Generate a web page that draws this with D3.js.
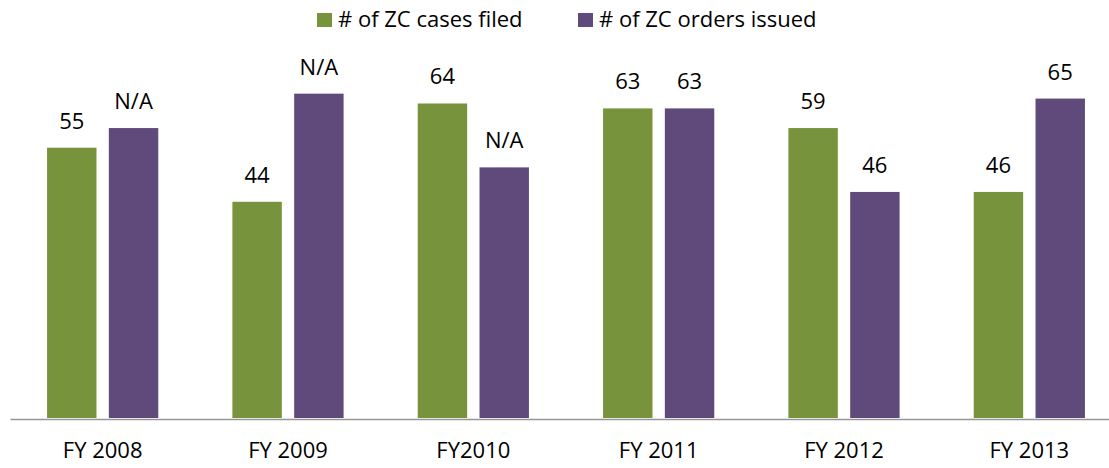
<!DOCTYPE html>
<html>
<head>
<meta charset="utf-8">
<script src="https://cdn.jsdelivr.net/npm/d3@7"></script>
<style>
  body { margin: 0; background: #fff; }
  text { font-family: "Open Sans", "Liberation Sans", sans-serif; fill: #000; }
</style>
</head>
<body>
<div id="chart"></div>
<script>
// data
var categories = ['FY 2008', 'FY 2009', 'FY2010', 'FY 2011', 'FY 2012', 'FY 2013'];
var seriesNames = ['# of ZC cases filed', '# of ZC orders issued'];
var casesFiled = [55, 44, 64, 63, 59, 46];
var ordersIssued = [59, 66, 51, 63, 46, 65];
var ordersLabels = ['N/A', 'N/A', 'N/A', '63', '46', '65'];
var colors = ['#77933C', '#604A7B'];

var width = 1109, height = 468;
var margin = { top: 74, bottom: 50, left: 10, right: -13 };

var svg = d3.select('#chart')
    .append('svg')
    .attr('width', width)
    .attr('height', height);

var x0 = d3.scaleBand()
    .domain(categories)
    .range([margin.left, width - margin.right])
    .paddingInner(0.4)
    .paddingOuter(0.2);

var x1 = d3.scaleBand()
    .domain(seriesNames)
    .range([0, x0.bandwidth()])
    .paddingInner(0.2);

var y = d3.scaleLinear()
    .domain([0, 70])
    .range([height - margin.bottom, margin.top]);

var rows = categories.map(function (c, i) {
    return [
        { cat: c, series: seriesNames[0], value: casesFiled[i], label: String(casesFiled[i]), color: colors[0] },
        { cat: c, series: seriesNames[1], value: ordersIssued[i], label: ordersLabels[i], color: colors[1] }
    ];
});

var groups = svg.selectAll('g.cat')
    .data(rows)
    .enter()
    .append('g')
    .attr('class', 'cat')
    .attr('transform', function (d) { return 'translate(' + x0(d[0].cat) + ',0)'; });

groups.selectAll('rect')
    .data(function (d) { return d; })
    .enter()
    .append('rect')
    .attr('x', function (d) { return x1(d.series); })
    .attr('y', function (d) { return y(d.value); })
    .attr('width', x1.bandwidth())
    .attr('height', function (d) { return y(0) - y(d.value); })
    .attr('fill', function (d) { return d.color; });

groups.selectAll('text.val')
    .data(function (d) { return d; })
    .enter()
    .append('text')
    .attr('class', 'val')
    .attr('x', function (d) { return x1(d.series) + x1.bandwidth() / 2; })
    .attr('y', function (d) { return y(d.value) - 19; })
    .attr('text-anchor', 'middle')
    .style('font-size', '22px')
    .text(function (d) { return d.label; });

// x axis
var xAxis = svg.append('g')
    .attr('transform', 'translate(0,' + (y(0) + 1) + ')')
    .call(d3.axisBottom(x0).tickSize(0).tickPadding(23));

xAxis.select('.domain')
    .attr('stroke', '#969696')
    .attr('stroke-width', 1.5);

xAxis.selectAll('text')
    .style('font-size', '22px')
    .style('font-family', '"Open Sans", "Liberation Sans", sans-serif')
    .attr('fill', '#000');

// legend
var legendX = [317, 578];
var legend = svg.selectAll('g.legend')
    .data(seriesNames)
    .enter()
    .append('g')
    .attr('class', 'legend')
    .attr('transform', function (d, i) { return 'translate(' + legendX[i] + ',0)'; });

legend.append('rect')
    .attr('x', 0)
    .attr('y', 13)
    .attr('width', 15)
    .attr('height', 14)
    .attr('fill', function (d, i) { return colors[i]; });

legend.append('text')
    .attr('x', 21)
    .attr('y', 27)
    .style('font-size', '22px')
    .text(function (d) { return d; });
</script>
</body>
</html>
